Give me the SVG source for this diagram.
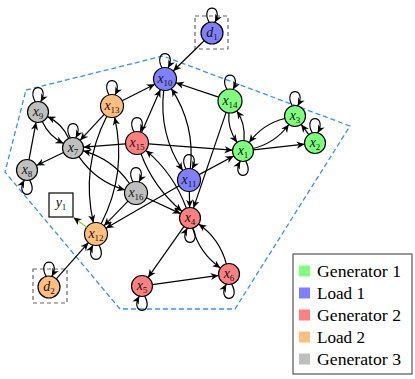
<svg xmlns="http://www.w3.org/2000/svg" width="415" height="379" viewBox="0 0 415 379">
<style>
.edge{fill:none;stroke:#000;stroke-width:1.2;marker-end:url(#ah)}
.n{stroke:#000;stroke-width:1.2}
.g1{fill:#80FF80}.l1{fill:#8080FF}.g2{fill:#FF8080}.l2{fill:#FFBF80}.g3{fill:#BFBFBF}
.lbl{font-size:14px;text-anchor:middle;fill:#111}
.sub{font-size:9px}
.dbox{fill:none;stroke:#666;stroke-width:1.2;stroke-dasharray:4 3}
.leg{font-size:17px;fill:#000}
</style>
<defs>
<marker id="ah" viewBox="0 0 10 10" refX="10" refY="5" markerWidth="8" markerHeight="8" markerUnits="userSpaceOnUse" orient="auto">
<path d="M0,0.5 L10,5 L0,9.5 L3,5 z" fill="#000"/>
</marker>
</defs>
<rect width="415" height="379" fill="#fff"/>
<polygon points="26,90 163,56 350,126 235,309 120,309 5,172" fill="none" stroke="#3D8FE8" stroke-width="1.3" stroke-dasharray="5 3"/>
<rect class="dbox" x="195" y="16" width="33" height="33"/>
<rect class="dbox" x="33" y="269" width="34" height="34"/>

<g id="nodes" font-family="'Liberation Serif', 'Times New Roman', serif">
<g id="d1"><circle class="n l1" cx="212" cy="33" r="11"/><text class="lbl" x="212" y="36.5"><tspan font-style="italic">d</tspan><tspan class="sub" dy="3">1</tspan></text></g>
<g id="x10"><circle class="n l1" cx="165" cy="79" r="11.5"/><text class="lbl" x="165" y="82.5"><tspan font-style="italic">x</tspan><tspan class="sub" dy="3">10</tspan></text></g>
<g id="x13"><circle class="n l2" cx="112" cy="106" r="11.5"/><text class="lbl" x="112" y="109.5"><tspan font-style="italic">x</tspan><tspan class="sub" dy="3">13</tspan></text></g>
<g id="x9"><circle class="n g3" cx="38" cy="112" r="10.5"/><text class="lbl" x="38" y="115.5"><tspan font-style="italic">x</tspan><tspan class="sub" dy="3">9</tspan></text></g>
<g id="x7"><circle class="n g3" cx="73" cy="148" r="10.5"/><text class="lbl" x="73" y="151.5"><tspan font-style="italic">x</tspan><tspan class="sub" dy="3">7</tspan></text></g>
<g id="x8"><circle class="n g3" cx="27" cy="170" r="10.5"/><text class="lbl" x="27" y="173.5"><tspan font-style="italic">x</tspan><tspan class="sub" dy="3">8</tspan></text></g>
<g id="x15"><circle class="n g2" cx="137" cy="143" r="11.5"/><text class="lbl" x="137" y="146.5"><tspan font-style="italic">x</tspan><tspan class="sub" dy="3">15</tspan></text></g>
<g id="x14"><circle class="n g1" cx="230" cy="101" r="12"/><text class="lbl" x="230" y="104.5"><tspan font-style="italic">x</tspan><tspan class="sub" dy="3">14</tspan></text></g>
<g id="x3"><circle class="n g1" cx="295" cy="116" r="10.5"/><text class="lbl" x="295" y="119.5"><tspan font-style="italic">x</tspan><tspan class="sub" dy="3">3</tspan></text></g>
<g id="x2"><circle class="n g1" cx="315" cy="143" r="10.5"/><text class="lbl" x="315" y="146.5"><tspan font-style="italic">x</tspan><tspan class="sub" dy="3">2</tspan></text></g>
<g id="x1"><circle class="n g1" cx="243" cy="151" r="10.5"/><text class="lbl" x="243" y="154.5"><tspan font-style="italic">x</tspan><tspan class="sub" dy="3">1</tspan></text></g>
<g id="x11"><circle class="n l1" cx="189" cy="180" r="11.5"/><text class="lbl" x="189" y="183.5"><tspan font-style="italic">x</tspan><tspan class="sub" dy="3">11</tspan></text></g>
<g id="x16"><circle class="n g3" cx="136" cy="193" r="11.5"/><text class="lbl" x="136" y="196.5"><tspan font-style="italic">x</tspan><tspan class="sub" dy="3">16</tspan></text></g>
<g id="x12"><circle class="n l2" cx="96" cy="234" r="11.5"/><text class="lbl" x="96" y="237.5"><tspan font-style="italic">x</tspan><tspan class="sub" dy="3">12</tspan></text></g>
<g id="d2"><circle class="n l2" cx="49" cy="287" r="11"/><text class="lbl" x="49" y="290.5"><tspan font-style="italic">d</tspan><tspan class="sub" dy="3">2</tspan></text></g>
<g id="x4"><circle class="n g2" cx="190" cy="218" r="10.5"/><text class="lbl" x="190" y="221.5"><tspan font-style="italic">x</tspan><tspan class="sub" dy="3">4</tspan></text></g>
<g id="x5"><circle class="n g2" cx="142" cy="286" r="10.5"/><text class="lbl" x="142" y="289.5"><tspan font-style="italic">x</tspan><tspan class="sub" dy="3">5</tspan></text></g>
<g id="x6"><circle class="n g2" cx="229" cy="274" r="10.5"/><text class="lbl" x="229" y="277.5"><tspan font-style="italic">x</tspan><tspan class="sub" dy="3">6</tspan></text></g>
<g id="y1"><rect x="49" y="193" width="24" height="24" fill="#fff" stroke="#000" stroke-width="1.2"/><text class="lbl" x="61" y="207"><tspan font-style="italic">y</tspan><tspan class="sub" dy="3">1</tspan></text></g>
</g>

<g id="connectors">
<path class="edge" d="M204.1,40.7 L173.2,71.0"/>
<path class="edge" d="M56.3,278.8 L88.4,242.6"/>
<path class="edge" style="stroke:#9ACD32" d="M86.8,227.2 L73.5,217.5"/>
<path class="edge" d="M122.2,100.8 L154.8,84.2"/>
<path class="edge" d="M104.2,114.4 L80.1,140.3"/>
<path class="edge" d="M29.0,159.7 L36.0,122.3"/>
<path class="edge" d="M63.5,152.5 L36.5,165.5"/>
<path class="edge" d="M125.5,143.9 L83.5,147.2"/>
<path class="edge" d="M148.5,143.9 L232.5,150.2"/>
<path class="edge" d="M141.6,132.5 L160.4,89.5"/>
<path class="edge" d="M218.6,97.1 L175.9,82.7"/>
<path class="edge" d="M226.1,112.4 L193.4,208.1"/>
<path class="edge" d="M199.1,174.6 L233.7,156.0"/>
<path class="edge" d="M253.4,149.8 L304.6,144.2"/>
<path class="edge" d="M308.8,134.6 L301.2,124.4"/>
<path class="edge" d="M189.3,191.5 L189.7,207.5"/>
<path class="edge" d="M146.4,197.8 L180.5,213.6"/>
<path class="edge" d="M128.0,201.2 L104.0,225.8"/>
<path class="edge" d="M179.1,185.8 L105.9,228.2"/>
<path class="edge" d="M183.9,226.6 L148.1,277.4"/>
<path class="edge" d="M152.4,284.6 L218.6,275.4"/>
<path class="edge" d="M68.7,138.4 Q62.1,123.6 47.5,116.6"/>
<path class="edge" d="M42.3,121.6 Q48.9,136.4 63.6,143.4"/>
<path class="edge" d="M163.7,90.4 Q158.6,133.9 182.7,170.4"/>
<path class="edge" d="M190.3,168.6 Q195.4,125.1 171.3,88.6"/>
<path class="edge" d="M228.9,112.9 Q227.4,128.4 237.0,142.4"/>
<path class="edge" d="M244.0,140.6 Q245.6,123.6 236.8,110.9"/>
<path class="edge" d="M253.2,148.5 Q275.4,143.0 288.8,124.5"/>
<path class="edge" d="M284.8,118.5 Q262.6,124.0 249.2,142.5"/>
<path class="edge" d="M141.0,153.8 Q153.5,187.6 181.9,211.3"/>
<path class="edge" d="M186.4,208.2 Q173.5,173.4 145.8,150.4"/>
<path class="edge" d="M78.9,156.7 Q96.3,182.0 124.9,189.9"/>
<path class="edge" d="M129.5,183.5 Q112.7,159.0 83.1,150.8"/>
<path class="edge" d="M106.8,116.2 Q80.7,167.1 93.4,222.8"/>
<path class="edge" d="M101.2,223.8 Q127.3,172.9 114.6,117.2"/>
<path class="edge" d="M192.7,228.2 Q199.3,253.1 220.4,268.0"/>
<path class="edge" d="M226.3,263.8 Q219.7,238.9 198.6,224.0"/>
<path class="edge" d="M209.2,22.4 C199,3.4 225,3.4 214.8,22.4"/>
<path class="edge" d="M162,67.9 C152,48.9 178,48.9 168,67.9"/>
<path class="edge" d="M109,94.9 C99,75.9 125,75.9 115,94.9"/>
<path class="edge" d="M35.3,101.9 C25,82.9 51,82.9 40.7,101.9"/>
<path class="edge" d="M70.3,137.9 C60,118.9 86,118.9 75.7,137.9"/>
<path class="edge" d="M134,131.9 C124,112.9 150,112.9 140,131.9"/>
<path class="edge" d="M186,168.9 C176,149.9 202,149.9 192,168.9"/>
<path class="edge" d="M133,181.9 C123,162.9 149,162.9 139,181.9"/>
<path class="edge" d="M226.9,89.4 C217,70.4 243,70.4 233.1,89.4"/>
<path class="edge" d="M292.3,105.9 C282,86.9 308,86.9 297.7,105.9"/>
<path class="edge" d="M312.3,132.9 C302,113.9 328,113.9 317.7,132.9"/>
<path class="edge" d="M46.2,276.4 C36,257.4 62,257.4 51.8,276.4"/>
<path class="edge" d="M245.7,161.1 C256,180.1 230,180.1 240.3,161.1"/>
<path class="edge" d="M29.7,180.1 C40,199.1 14,199.1 24.3,180.1"/>
<path class="edge" d="M99,245.1 C109,264.1 83,264.1 93,245.1"/>
<path class="edge" d="M192.7,228.1 C203,247.1 177,247.1 187.3,228.1"/>
<path class="edge" d="M144.7,296.1 C155,315.1 129,315.1 139.3,296.1"/>
<path class="edge" d="M231.7,284.1 C242,303.1 216,303.1 226.3,284.1"/>
</g>

<g id="legend" font-family="'Liberation Serif', 'Times New Roman', serif">
<rect x="293" y="254" width="119" height="120" fill="#fff" stroke="#555" stroke-width="1.2"/>
<rect x="299" y="265.5" width="11" height="11" fill="#80FF80"/>
<rect x="299" y="287.5" width="11" height="11" fill="#8080FF"/>
<rect x="299" y="309.5" width="11" height="11" fill="#FF8080"/>
<rect x="299" y="331.5" width="11" height="11" fill="#FFBF80"/>
<rect x="299" y="353.5" width="11" height="11" fill="#BFBFBF"/>
<text class="leg" x="317" y="276.5" textLength="84" lengthAdjust="spacingAndGlyphs">Generator 1</text>
<text class="leg" x="317" y="298.5" textLength="48" lengthAdjust="spacingAndGlyphs">Load 1</text>
<text class="leg" x="317" y="320.5" textLength="84" lengthAdjust="spacingAndGlyphs">Generator 2</text>
<text class="leg" x="317" y="342.5" textLength="48" lengthAdjust="spacingAndGlyphs">Load 2</text>
<text class="leg" x="317" y="364.5" textLength="84" lengthAdjust="spacingAndGlyphs">Generator 3</text>
</g>
</svg>
